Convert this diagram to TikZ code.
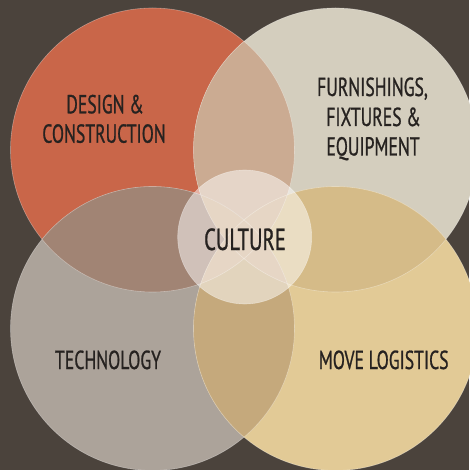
\documentclass[tikz,border=0pt]{standalone}
\usepackage{fontspec}
\setmainfont{PT Sans}[FakeStretch=0.68,FakeBold=0.8]
\definecolor{bgc}{HTML}{4B433C}
\definecolor{ctl}{HTML}{C96649}
\definecolor{ctr}{HTML}{D4CEBE}
\definecolor{cbl}{HTML}{ACA39A}
\definecolor{cbr}{HTML}{E2CA96}
\definecolor{otltr}{HTML}{CBAB92}
\definecolor{otlbl}{HTML}{A18474}
\definecolor{otrbr}{HTML}{D5BB88}
\definecolor{oblbr}{HTML}{C5A97C}
\definecolor{odiag}{HTML}{CDAE8C}
\definecolor{txt}{HTML}{262220}
\begin{document}
\begin{tikzpicture}[x=1pt,y=-1pt,
  lbl/.style={font=\fontsize{26}{30}\selectfont, text=txt, inner sep=0pt, anchor=base},
  rim/.style={draw=white, draw opacity=0.35, line width=0.6pt}]
\fill[bgc] (0,0) rectangle (469,470);
\useasboundingbox (0,0) rectangle (469,470);
\coordinate (TL) at (152.5,150);
\coordinate (TR) at (335.5,150);
\coordinate (BL) at (152.5,328.5);
\coordinate (BR) at (335.5,328.5);
\coordinate (CC) at (244.7,237);
% base circles
\fill[ctl] (TL) circle[radius=142pt];
\fill[ctr] (TR) circle[radius=142pt];
\fill[cbl] (BL) circle[radius=142pt];
\fill[cbr] (BR) circle[radius=142pt];
% pairwise overlaps
\begin{scope}\clip (TL) circle[radius=142pt]; \fill[otltr] (TR) circle[radius=142pt];\end{scope}
\begin{scope}\clip (TL) circle[radius=142pt]; \fill[otlbl] (BL) circle[radius=142pt];\end{scope}
\begin{scope}\clip (TR) circle[radius=142pt]; \fill[otrbr] (BR) circle[radius=142pt];\end{scope}
\begin{scope}\clip (BL) circle[radius=142pt]; \fill[oblbr] (BR) circle[radius=142pt];\end{scope}
\begin{scope}\clip (TL) circle[radius=142pt]; \fill[odiag] (BR) circle[radius=142pt];\end{scope}
\begin{scope}\clip (TR) circle[radius=142pt]; \fill[odiag] (BL) circle[radius=142pt];\end{scope}
% central circle
\fill[white, fill opacity=0.5] (CC) circle[radius=67pt];
% rims
\path[rim] (TL) circle[radius=142pt];
\path[rim] (TR) circle[radius=142pt];
\path[rim] (BL) circle[radius=142pt];
\path[rim] (BR) circle[radius=142pt];
\path[rim] (CC) circle[radius=67pt];
% labels
\node[lbl] (d1) at (105,113.3) {DESIGN \&};
\node[lbl] (d2) at (104,142.7) {CONSTRUCTION};
\node[lbl] (f1) at (372.5,96) {FURNISHINGS,};
\node[lbl] (f2) at (373.5,126) {FIXTURES \&};
\node[lbl] (f3) at (373,155.5) {EQUIPMENT};
\node[lbl] (t1) at (108,369) {TECHNOLOGY};
\node[lbl] (m1) at (383.7,369) {MOVE LOGISTICS};
\node[lbl, font=\fontsize{30.4}{34}\selectfont] (c1) at (245,250) {CULTURE};
\end{tikzpicture}
\end{document}
